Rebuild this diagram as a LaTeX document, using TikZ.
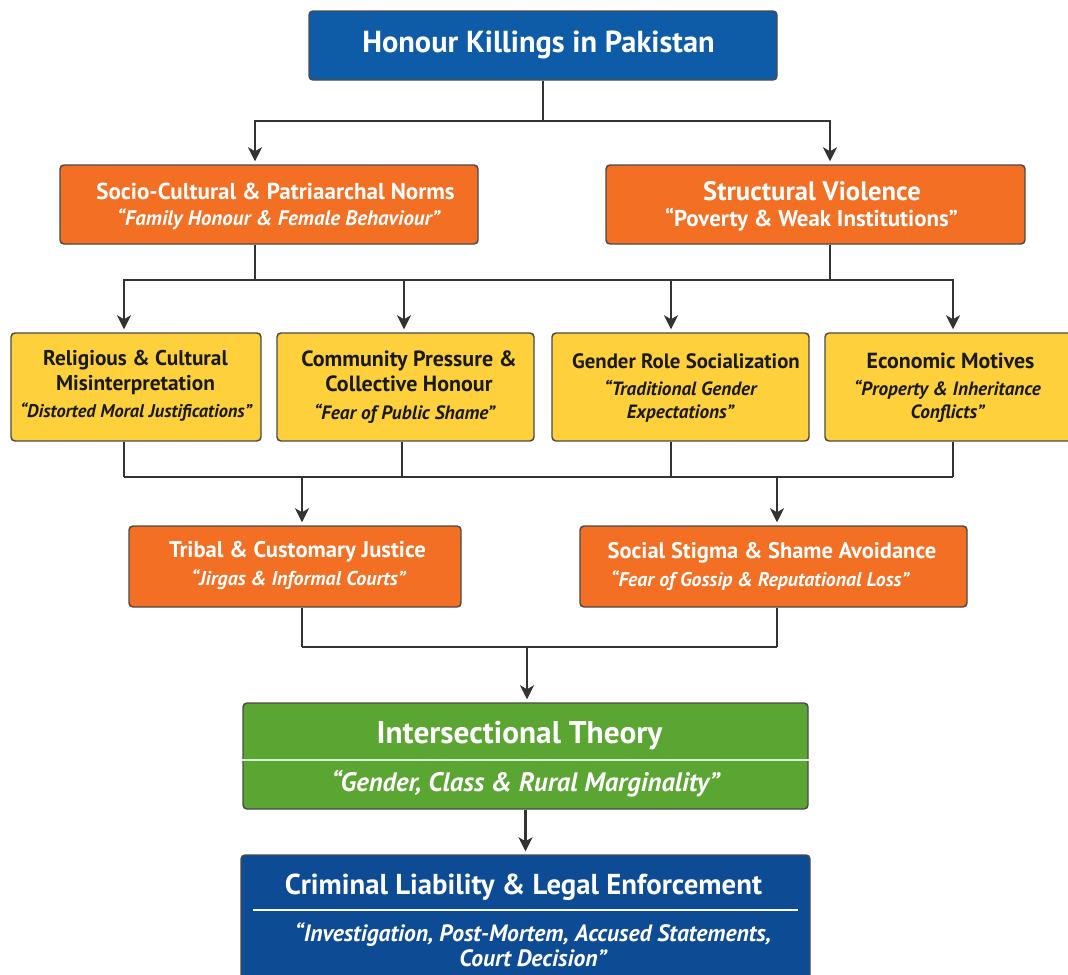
\documentclass[tikz,border=0pt]{standalone}
\usepackage{fontspec}
\setmainfont{PT Sans}
\usetikzlibrary{arrows.meta}
\newdimen\pxu \pxu=0.75pt
\definecolor{topblue}{HTML}{0E5CA8}
\definecolor{botblue}{HTML}{0D4B95}
\definecolor{orng}{HTML}{F36F24}
\definecolor{yel}{HTML}{FDD03C}
\definecolor{grn}{HTML}{5BA632}
\definecolor{lin}{HTML}{333333}
\definecolor{brd}{HTML}{4A4A4A}
\definecolor{dtxt}{HTML}{1A1A1A}
\newcommand{\fsz}[2]{\fontsize{#1}{#2}\selectfont}
\begin{document}
\begin{tikzpicture}[x=\pxu,y=-\pxu,
  box/.style={draw=brd, line width=1.1pt, rounded corners=3pt, inner sep=0pt},
  conn/.style={draw=lin, line width=1.8pt},
  arr/.style={conn, -{Stealth[length=10.5pt,width=10.5pt,inset=3pt]}, shorten >=2.25pt},
  wt/.style={text=white, inner sep=0pt, align=center},
  dk/.style={text=dtxt, inner sep=0pt, align=center},
]
\useasboundingbox (0,0) rectangle (1068,975);
\clip (0,0) rectangle (1068,975);

% boxes
\node[box, fill=topblue, minimum width=351pt, minimum height=51.75pt] (top) at (543,45.5) {};
\node[box, fill=orng, minimum width=313.5pt, minimum height=59.25pt] (o1) at (269,204.5) {};
\node[box, fill=orng, minimum width=314.25pt, minimum height=59.25pt] (o2) at (815.5,204.5) {};
\node[box, fill=yel, minimum width=187.5pt, minimum height=81pt] (y1) at (136,387) {};
\node[box, fill=yel, minimum width=192.75pt, minimum height=81pt] (y2) at (405.5,387) {};
\node[box, fill=yel, minimum width=192.75pt, minimum height=81pt] (y3) at (680.5,387) {};
\node[box, fill=yel, minimum width=187.5pt, minimum height=81pt] (y4) at (950,387) {};
\node[box, fill=orng, minimum width=249pt, minimum height=60.75pt] (o3) at (295,566.5) {};
\node[box, fill=orng, minimum width=290.25pt, minimum height=60.75pt] (o4) at (773.5,566.5) {};
\node[box, fill=grn, minimum width=423.75pt, minimum height=79.5pt] (gr) at (525.5,756) {};
\node[box, fill=botblue, minimum width=426.75pt, minimum height=101.25pt] (bt) at (525.5,922.5) {};

% dividers
\coordinate (gdv) at (0,760);
\draw[line width=1.5pt, draw=green!15!white] (gr.west |- gdv) -- (gr.east |- gdv);
\draw[line width=1.5pt, draw=white] (253,910) -- (798,910);

% texts
\node[wt, font=\fsz{22.8}{26}\bfseries] (topT) at (538.5,45) {Honour Killings in Pakistan};

\node[wt, font=\fsz{17.3}{20}\bfseries] (o1T) at (275.5,191) {Socio-Cultural \& Patriaarchal Norms};
\node[wt, font=\fsz{15.75}{18}\bfseries\itshape] (o1S) at (278.5,219) {“Family Honour \& Female Behaviour”};
\node[wt, font=\fsz{20}{22}\bfseries] (o2T) at (812,191) {Structural Violence};
\node[wt, font=\fsz{17.2}{20}\bfseries] (o2S) at (811.5,220) {“Poverty \& Weak Institutions”};

\node[dk, font=\fsz{16}{18.75}\bfseries] (y1T) at (135.5,372.5) {Religious \& Cultural\\Misinterpretation};
\node[dk, font=\fsz{13.8}{16}\bfseries\itshape] (y1S) at (136,412) {“Distorted Moral Justifications”};
\node[dk, font=\fsz{16.5}{18.75}\bfseries] (y2T) at (409,371.5) {Community Pressure \&\\Collective Honour};
\node[dk, font=\fsz{14.5}{17}\bfseries\itshape] (y2S) at (404.5,414) {“Fear of Public Shame”};
\node[dk, font=\fsz{15.6}{19}\bfseries] (y3T) at (686,361) {Gender Role Socialization};
\node[dk, font=\fsz{14.4}{17.25}\bfseries\itshape] (y3S) at (680.5,401.5) {“Traditional Gender\\Expectations”};
\node[dk, font=\fsz{16.4}{19}\bfseries] (y4T) at (950.5,361) {Economic Motives};
\node[dk, font=\fsz{14.4}{17.25}\bfseries\itshape] (y4S) at (947.5,401) {“Property \& Inheritance\\Conflicts”};

\node[wt, font=\fsz{17}{20}\bfseries] (o3T) at (297.5,552) {Tribal \& Customary Justice};
\node[wt, font=\fsz{15}{18}\bfseries\itshape] (o3S) at (298.5,580) {“Jirgas \& Informal Courts”};
\node[wt, font=\fsz{16.9}{20}\bfseries] (o4T) at (772,553) {Social Stigma \& Shame Avoidance};
\node[wt, font=\fsz{14.9}{18}\bfseries\itshape] (o4S) at (760,581) {“Fear of Gossip \& Reputational Loss”};

\node[wt, font=\fsz{23.5}{26}\bfseries] (grT) at (519.5,736) {Intersectional Theory};
\node[wt, font=\fsz{20}{22}\bfseries\itshape] (grS) at (525.5,784) {“Gender, Class \& Rural Marginality”};

\node[wt, font=\fsz{21.6}{24}\bfseries] (btT) at (523.5,887) {Criminal Liability \& Legal Enforcement};
\node[wt, font=\fsz{17.7}{18.75}\bfseries\itshape] (btS) at (533,944.5) {“Investigation, Post-Mortem, Accused Statements,\\Court Decision”};

% anchor coordinates
\coordinate (o1in) at ([xshift=-10.5pt]o1.north);
\coordinate (o2in) at ([xshift=10.875pt]o2.north);
\coordinate (o1out) at ([xshift=-10.5pt]o1.south);
\coordinate (o2out) at ([xshift=10.875pt]o2.south);
\coordinate (y1in) at ([xshift=-9pt]y1.north);
\coordinate (y2in) at ([xshift=-1.125pt]y2.north);
\coordinate (y3in) at ([xshift=-7.125pt]y3.north);
\coordinate (y4in) at ([xshift=2.25pt]y4.north);
\coordinate (y1out) at ([xshift=-9pt]y1.south);
\coordinate (y2out) at ([xshift=-2.625pt]y2.south);
\coordinate (y3out) at ([xshift=-7.125pt]y3.south);
\coordinate (y4out) at ([xshift=2.25pt]y4.south);
\coordinate (o3in) at ([xshift=5.25pt]o3.north);
\coordinate (o4in) at ([xshift=2.625pt]o4.north);
\coordinate (o3out) at ([xshift=5.25pt]o3.south);
\coordinate (o4out) at ([xshift=2.625pt]o4.south);
\coordinate (gin) at ([xshift=1.125pt]gr.north);

% connectors level 1
\coordinate (j1) at (543,121);
\draw[conn] (top.south) -- (j1);
\draw[arr] (j1) -| (o1in);
\draw[arr] (j1) -| (o2in);

% level 2
\draw[conn] (o1out) -- ++(0,35) coordinate (a2);
\draw[conn] (o2out) -- ++(0,35) coordinate (b2);
\draw[conn] (a2) -- (b2);
\draw[arr] (a2) -| (y1in);
\draw[arr] (a2) -| (y2in);
\draw[arr] (b2) -| (y3in);
\draw[arr] (b2) -| (y4in);

% level 3
\draw[conn] (y1out) -- ++(0,35) coordinate (c1);
\draw[conn] (y2out) -- ++(0,35) coordinate (c2);
\draw[conn] (y3out) -- ++(0,35) coordinate (c3);
\draw[conn] (y4out) -- ++(0,35) coordinate (c4);
\draw[conn] (c1) -- (c4);
\draw[arr] (o3in |- c1) -- (o3in);
\draw[arr] (o4in |- c1) -- (o4in);

% level 4
\draw[conn] (o3out) -- ++(0,39) coordinate (d1);
\draw[conn] (o4out) -- ++(0,39) coordinate (d2);
\draw[conn] (d1) -- (d2);
\draw[arr] (gin |- d1) -- (gin);

% level 5
\draw[arr] (gr.south) -- (bt.north);
\end{tikzpicture}
\end{document}
